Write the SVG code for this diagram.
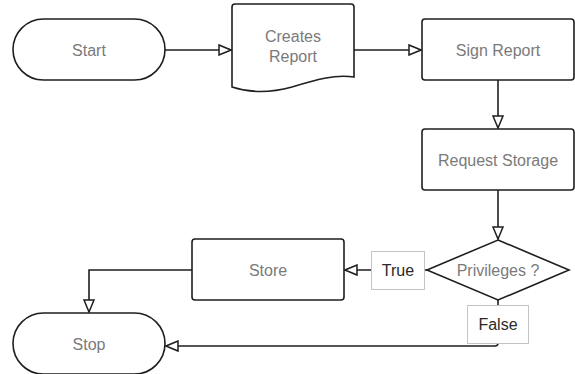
<svg xmlns="http://www.w3.org/2000/svg" width="575" height="374" viewBox="0 0 575 374">
<style>
.shape{fill:#fff;stroke:#1e1e1e;stroke-width:1.6}
.lbl{font-family:"Liberation Sans",Arial,sans-serif;font-size:16px;fill:#7a7a7a;text-anchor:middle}
.elbl{font-family:"Liberation Sans",Arial,sans-serif;font-size:16px;fill:#2a2a2a;text-anchor:middle}
.ebox{fill:#fff;stroke:#c4c4c4;stroke-width:1}
.conn{fill:none;stroke:#1e1e1e;stroke-width:1.6;marker-end:url(#arr)}
</style>
<defs>
<marker id="arr" markerUnits="userSpaceOnUse" markerWidth="14" markerHeight="12" refX="13" refY="6" orient="auto" viewBox="0 0 14 12">
<path d="M1,1 L13,6 L1,11 Z" fill="#fff" stroke="#1e1e1e" stroke-width="1.5"/>
</marker>
</defs>
<rect width="575" height="374" fill="#fff"/>
<g id="connectors">
<path class="conn" d="M165,50 H231"/>
<path class="conn" d="M354,50 H421"/>
<path class="conn" d="M498,80 V128"/>
<path class="conn" d="M498,190 V239"/>
<path class="conn" d="M427,270 H345"/>
<path class="conn" d="M192,270 H89 V312"/>
<path class="conn" d="M498,300 V343 Q498,346 495,346 H166"/>
</g>
<g id="start">
<rect class="shape" x="13" y="19" width="152" height="61" rx="30.5"/>
<text class="lbl" x="89" y="56">Start</text>
</g>
<g id="creates-report">
<path class="shape" d="M235,4 H351 Q354,4 354,7 V77 C335,74 315,80 292,87 C270,93 250,93 232,87 V7 Q232,4 235,4 Z"/>
<text class="lbl" x="293" y="42">Creates</text>
<text class="lbl" x="293" y="62">Report</text>
</g>
<g id="sign-report">
<rect class="shape" x="422" y="19" width="152" height="61" rx="3"/>
<text class="lbl" x="498" y="56">Sign Report</text>
</g>
<g id="request-storage">
<rect class="shape" x="422" y="129" width="152" height="61" rx="3"/>
<text class="lbl" x="498" y="166">Request Storage</text>
</g>
<g id="privileges">
<path class="shape" d="M498,240 L569,270 L498,300 L427,270 Z"/>
<text class="lbl" x="498" y="276">Privileges ?</text>
</g>
<g id="store">
<rect class="shape" x="192" y="239" width="152" height="61" rx="3"/>
<text class="lbl" x="268" y="276">Store</text>
</g>
<g id="stop">
<rect class="shape" x="13" y="313" width="152" height="61" rx="30.5"/>
<text class="lbl" x="89" y="350">Stop</text>
</g>
<g id="label-true">
<rect class="ebox" x="371.5" y="251.5" width="53" height="38"/>
<text class="elbl" x="398" y="276">True</text>
</g>
<g id="label-false">
<rect class="ebox" x="467.5" y="305.5" width="61" height="38"/>
<text class="elbl" x="498" y="330">False</text>
</g>
</svg>
